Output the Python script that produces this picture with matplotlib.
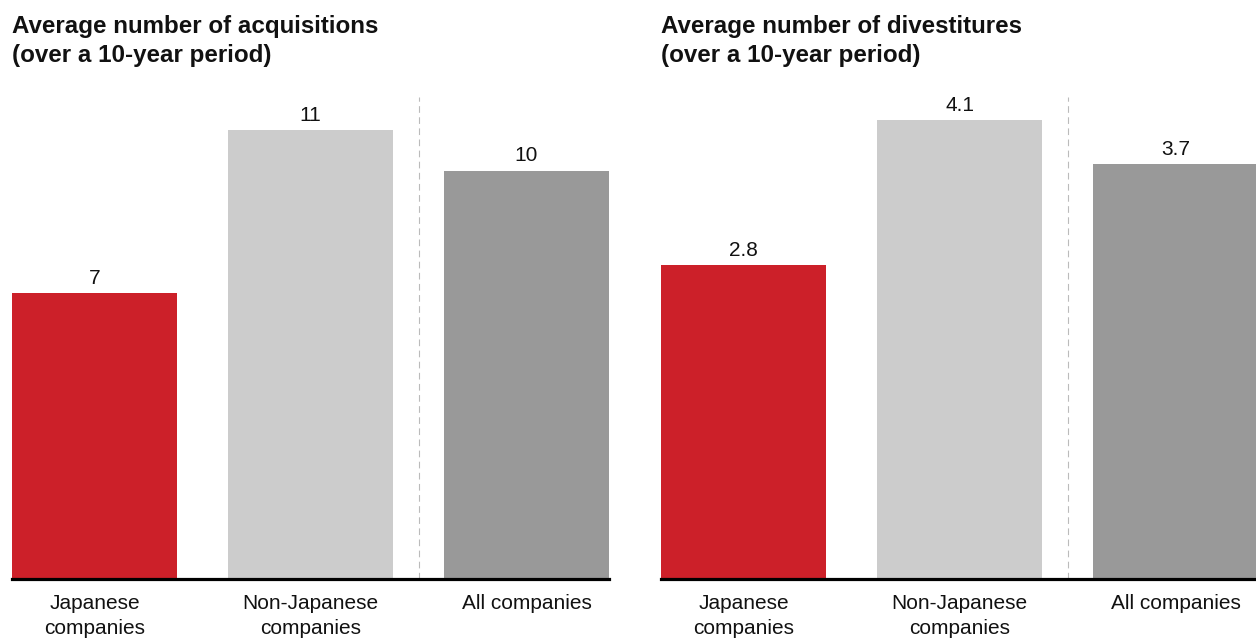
import matplotlib
matplotlib.use("Agg")
import matplotlib.pyplot as plt
from matplotlib.transforms import blended_transform_factory

plt.rcParams['font.family'] = ['Liberation Sans', 'DejaVu Sans']

categories = ["Japanese\ncompanies", "Non-Japanese\ncompanies", "All companies"]
acquisitions = [7, 11, 10]
acq_labels = ["7", "11", "10"]
divestitures = [2.8, 4.1, 3.7]
div_labels = ["2.8", "4.1", "3.7"]
titles = ["Average number of acquisitions\n(over a 10-year period)",
          "Average number of divestitures\n(over a 10-year period)"]

colors = ["#cc2029", "#cccccc", "#999999"]
W, H = 1256, 641
fig = plt.figure(figsize=(W / 100, H / 100), dpi=100)

bar_w = 0.764
half = 0.382
span_px = 2 * half + 2          # x-range in data units
unit_px = 216                   # pixels per category step
ax_w = span_px * unit_px
bottom_px = 578.5
top_px = 97


def panel(left_px, values, labels, title, px_per_unit):
    ax = fig.add_axes([left_px / W, 1 - bottom_px / H, ax_w / W, (bottom_px - top_px) / H])
    x = range(len(values))
    ax.bar(x, values, width=bar_w, color=colors, zorder=2)
    ax.set_xlim(-half, 2 + half)
    ax.set_ylim(0, (bottom_px - top_px) / px_per_unit)
    ax.axhline(0, color="black", lw=2.3, zorder=3, clip_on=False)
    ax.axvline(1.5, color="#bbbbbb", lw=0.8, ls=(0, (6, 4)), zorder=1)
    for xi, v, lab in zip(x, values, labels):
        ax.annotate(lab, (xi, v), xytext=(0, 6.5), textcoords="offset points",
                    ha="center", va="baseline", fontsize=15, color="#111111")
    tr = blended_transform_factory(ax.transData, ax.transAxes)
    for xi, c in zip(x, categories):
        ax.annotate(c, (xi, 0), xycoords=tr, xytext=(0, -11.5), textcoords="offset points",
                    ha="center", va="top", fontsize=15, color="#111111", linespacing=1.36)
    ax.set_axis_off()
    fig.text(left_px / W, 1 - 15 / H, title, ha="left", va="top", fontsize=17.4,
             fontweight="bold", color="#111111", linespacing=1.33)
    return ax


panel(12, acquisitions, acq_labels, titles[0], 40.8)
panel(661, divestitures, div_labels, titles[1], 111.9)

fig.savefig("out.png", dpi=100)
